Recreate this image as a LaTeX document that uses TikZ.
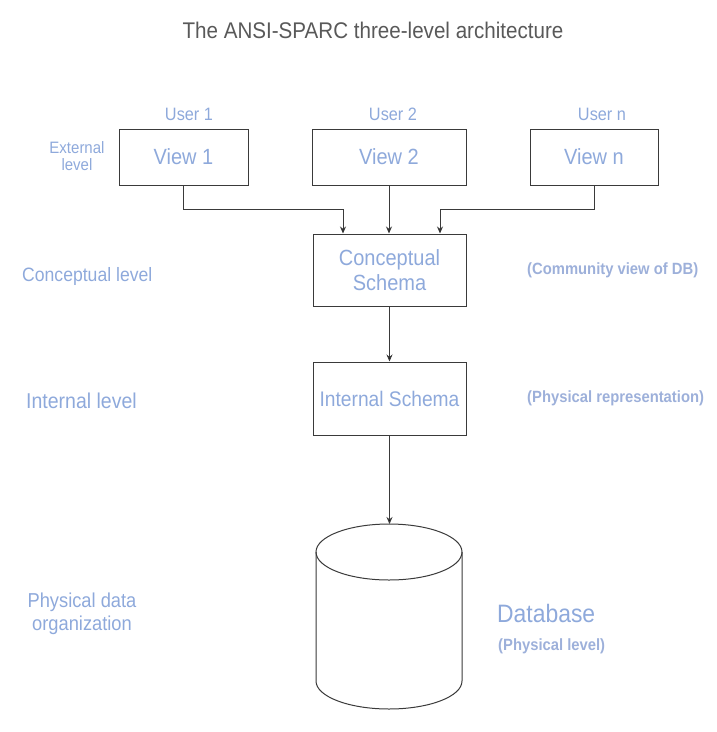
\documentclass[tikz,border=0pt]{standalone}
\usepackage{fontspec}
\usepackage{graphicx}
\setmainfont{Liberation Sans}
\usetikzlibrary{arrows.meta}
\definecolor{lblue}{HTML}{8EA9DB}
\definecolor{bblue}{HTML}{9DB0DA}
\definecolor{ttl}{HTML}{595959}
\definecolor{edge}{HTML}{3A3A3A}
\newcommand{\fsz}[1]{\fontsize{#1}{#1}\selectfont}
\newcommand{\tall}[1]{\scalebox{1}[1.1]{#1}}
\tikzset{
  box/.style={draw=edge, line width=1pt, rectangle, inner sep=0pt, text=lblue, align=center},
  lbl/.style={text=lblue, inner sep=0pt, align=center},
  blbl/.style={text=bblue, inner sep=0pt, font=\bfseries\fsz{14.8}},
  arr/.style={draw=edge, line width=0.9pt, -{Stealth[length=7pt,width=6pt,fill=black]}},
}
\begin{document}
\begin{tikzpicture}[x=1pt,y=-1pt]
\useasboundingbox (0,0) rectangle (716,732);
% title
\node[text=ttl, inner sep=0pt, font=\fsz{20.6}] (title) at (373,30) {\tall{The ANSI-SPARC three-level architecture}};
% users
\node[lbl, font=\fsz{16.3}] (u1) at (189,114) {\tall{User 1}};
\node[lbl, font=\fsz{16.3}] (u2) at (393,114) {\tall{User 2}};
\node[lbl, font=\fsz{16.3}] (un) at (602,114) {\tall{User n}};
% views
\node[box, minimum width=129pt, minimum height=56pt, font=\fsz{20}] (v1) at (183.5,157) {\tall{View 1}};
\node[box, minimum width=154pt, minimum height=56pt, font=\fsz{20}] (v2) at (389,157) {\tall{View 2}};
\node[box, minimum width=128pt, minimum height=56pt, font=\fsz{20}] (vn) at (594,157) {\tall{View n}};
% schemas
\node[box, minimum width=153pt, minimum height=72pt, font=\fsz{20}] (cs) at (389.5,270) {\tall{Conceptual}\\[4pt]\tall{Schema}};
\node[box, minimum width=153pt, minimum height=73pt, font=\fsz{19.2}] (is) at (389.5,398.5) {\tall{Internal Schema}};
% left labels
\node[lbl, font=\fsz{15}] (ext) at (77,156.5) {\tall{External}\\[2pt]\tall{level}};
\node[lbl, anchor=west, font=\fsz{17.6}] (cl) at (22,276) {\tall{Conceptual level}};
\node[lbl, anchor=west, font=\fsz{19.5}] (il) at (26,401) {\tall{Internal level}};
\node[lbl, font=\fsz{18.3}] (pd) at (82,613.5) {\tall{Physical data}\\[3pt]\tall{organization}};
% right labels
\node[blbl, anchor=west] (cv) at (527,270) {\tall{(Community view of DB)}};
\node[blbl, anchor=west] (pr) at (527,398) {\tall{(Physical representation)}};
\node[lbl, anchor=west, font=\fsz{22.9}] (dbl) at (497,613) {\tall{Database}};
\node[blbl, anchor=west] (pl) at (498,646) {\tall{(Physical level)}};
% database cylinder
\coordinate (dbtop) at (389,524);
\draw[edge, line width=1pt, fill=white] (316,552) -- (316,681) arc[start angle=180, end angle=360, x radius=73, y radius=-28] -- (462,552);
\draw[edge, line width=1pt] (389,552) ellipse[x radius=73, y radius=28];
% connectors
\coordinate (j1) at (343,209);
\coordinate (j3) at (440,209);
\draw[arr] (v1.south) |- (j1) -- (j1 |- cs.north);
\draw[arr] (v2.south) -- (v2.south |- cs.north);
\draw[arr] (vn.south) |- (j3) -- (j3 |- cs.north);
\draw[arr] (cs.south) -- (cs.south |- is.north);
\draw[arr] (is.south) -- (is.south |- dbtop);
\end{tikzpicture}
\end{document}
